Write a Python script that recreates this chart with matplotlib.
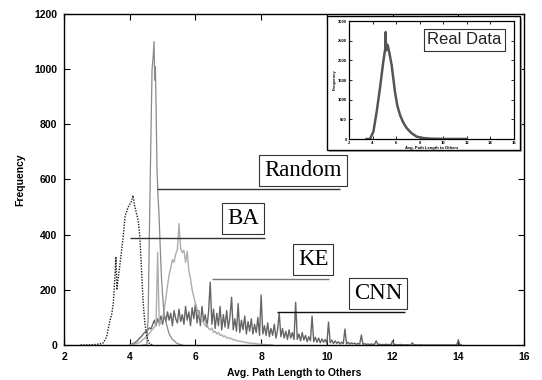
import numpy as np
import matplotlib.pyplot as plt
from matplotlib.patches import Rectangle

plt.rcParams['font.family'] = ['Liberation Sans', 'DejaVu Sans']

# ---- data ----
rand_x = [4.40, 4.52, 4.56, 4.60, 4.64, 4.68, 4.71, 4.74, 4.76, 4.78, 4.80, 4.83,
          4.86, 4.89, 4.92, 4.96, 5.00, 5.05, 5.12, 5.20, 5.30, 5.45, 5.60]
rand_y = [0, 0, 100, 420, 720, 1000, 1040, 1100, 960, 1010, 880, 640,
          540, 480, 380, 260, 180, 110, 75, 40, 20, 5, 0]

ba_x = [2.5, 2.9, 3.1, 3.2, 3.3, 3.38, 3.45, 3.5, 3.55, 3.58, 3.61, 3.64, 3.7, 3.75,
        3.8, 3.86, 3.9, 3.95, 4.0, 4.05, 4.1, 4.15, 4.2, 4.26, 4.31, 4.36, 4.41,
        4.46, 4.52, 4.6, 4.7]
ba_y = [0, 1, 4, 8, 30, 80, 110, 150, 250, 320, 200, 235, 290, 340,
        390, 470, 480, 500, 510, 520, 542, 505, 480, 450, 390, 270, 152,
        80, 29, 5, 0]

ke_x0 = 4.0
ke_y = [0, 1, 2, 4, 5, 7, 10, 13, 20, 24, 30, 35, 42, 50, 58, 65, 75, 336, 70, 85,
        95, 130, 170, 215, 255, 280, 310, 300, 330, 345, 440, 350, 335, 343, 300, 340,
        270, 240, 200, 175, 150, 130, 112, 100, 92, 80, 70, 76, 60, 55,
        62, 45, 50, 40, 46, 35, 38, 30, 33, 25, 28, 22, 24, 18, 20, 15,
        16, 12, 14, 10, 11, 8, 9, 6, 7, 5, 6, 4, 4, 3, 3, 2, 2, 1, 1, 1, 0, 0]

cnn_x0 = 4.0
cnn_y = [0, 2, 5, 8, 12, 18, 25, 30, 38, 45, 50, 55, 62, 58, 75, 90, 70, 95, 80, 105,
         75, 110, 85, 120, 90, 115, 70, 125, 95, 80, 130, 85, 110, 75, 140, 90, 120, 70,
         135, 95, 150, 80, 125, 70, 140, 85, 110, 65, 120, 228, 75, 130, 60, 115, 70,
         140, 55, 110, 65, 125, 60, 100, 173, 55, 95, 50, 150, 45, 90, 55, 105, 40,
         85, 50, 95, 40, 75, 45, 100, 35, 181, 40, 70, 35, 80, 30, 60, 35, 75, 25,
         55, 116, 30, 60, 25, 50, 20, 55, 25, 45, 20, 155, 20, 40, 15, 45, 18, 35,
         12, 30, 15, 105, 12, 28, 10, 25, 8, 22, 10, 20, 6, 83, 8, 18, 5, 15, 6, 12,
         4, 10, 5, 58, 4, 10, 3, 8, 4, 7, 2, 6, 3, 36, 2, 5, 2, 4, 1, 4, 2, 3, 15, 2,
         3, 1, 2, 1, 3, 1, 2, 1, 15, 1, 2, 0, 1, 2, 0, 1, 0, 1, 0, 0, 8, 0, 1, 0, 0,
         1, 0, 0, 0, 0, 0, 0, 0, 0, 0, 0, 0, 0, 0, 0, 0, 0, 0, 0, 0, 0, 0, 0, 18, 0, 0]

real_x = [3.5, 3.78, 4.07, 4.35, 4.63, 4.91, 5.0, 5.08, 5.11, 5.14, 5.2, 5.28, 5.35,
          5.45, 5.62, 5.9, 6.1, 6.33, 6.6, 6.89, 7.3, 7.74, 8.3, 8.87, 10.0, 12.0]
real_y = [0, 0, 186, 694, 1297, 1966, 2150, 2300, 2720, 2250, 2400, 2390, 2300,
          2150, 1880, 1200, 850, 610, 420, 280, 150, 60, 25, 10, 2, 0]

x_ticks = [2, 4, 6, 8, 10, 12, 14, 16]
y_ticks = [0, 200, 400, 600, 800, 1000, 1200]
inset_y_ticks = [0, 500, 1000, 1500, 2000, 2500, 3000]

ke_x = ke_x0 + 0.05 * np.arange(len(ke_y))
cnn_x = cnn_x0 + 0.05 * np.arange(len(cnn_y))

fig = plt.figure(figsize=(5.42, 3.8), dpi=100)
ax = fig.add_axes([0.1181, 0.0921, 0.8487, 0.8711])

ax.plot(cnn_x, cnn_y, color='#666666', lw=1.0)
ax.plot(ke_x, ke_y, color='#adadad', lw=1.0)
ax.plot(rand_x, rand_y, color='#8a8a8a', lw=0.9)
ax.plot(ba_x, ba_y, color='#222222', lw=1.0, ls=(0, (1, 1)))

ax.set_xlim(2, 16)
ax.set_ylim(0, 1200)
ax.set_xticks(x_ticks)
ax.set_yticks(y_ticks)
ax.tick_params(direction='in', top=True, right=True, length=4, width=0.8,
               labelsize=7.5, pad=5)
for lab in ax.get_xticklabels() + ax.get_yticklabels():
    lab.set_fontweight('bold')
for s in ax.spines.values():
    s.set_linewidth(1.0)
ax.set_xlabel('Avg. Path Length to Others', fontsize=7.5, fontweight='bold', labelpad=4)
ax.set_ylabel('Frequency', fontsize=7.5, fontweight='bold', labelpad=6)

# labels with leader lines
labels = [('Random', 9.27, 632, 4.83, 10.40, 564, '#333333'),
          ('BA', 7.46, 457, 4.01, 8.12, 387, '#333333'),
          ('KE', 9.58, 309, 6.50, 10.06, 239, '#777777'),
          ('CNN', 11.56, 186, 8.48, 12.38, 119, '#111111')]
for txt, tx, ty, x1, x2, ly, lc in labels:
    ax.hlines(ly, x1, x2, color=lc, lw=1.0)
    ax.text(tx, ty, txt, family='Liberation Serif', fontsize=16.5, ha='center', va='center',
            bbox=dict(boxstyle='square,pad=0.22', fc='white', ec='#333333', lw=0.8))

# inset frame with a thin shadow, drawn inside the main axes so the inset sits on top
ax.add_patch(Rectangle((0.6070, 0.6000), 0.3561, 0.3526, transform=fig.transFigure,
                       fc='#b0b0b0', ec='none', clip_on=False, zorder=5))
ax.add_patch(Rectangle((0.6033, 0.6053), 0.3561, 0.3526, transform=fig.transFigure,
                       fc='white', ec='black', lw=1.0, clip_on=False, zorder=6))

ins = fig.add_axes([0.6439, 0.6342, 0.3044, 0.3105])
ins.plot(real_x, real_y, color='#555555', lw=1.8)
ins.set_xlim(2, 16)
ins.set_ylim(0, 3000)
ins.set_xticks(x_ticks)
ins.set_yticks(inset_y_ticks)
ins.tick_params(direction='in', top=True, right=True, length=2, width=0.6,
                labelsize=3, pad=1.5)
for lab in ins.get_xticklabels() + ins.get_yticklabels():
    lab.set_fontweight('bold')
for s in ins.spines.values():
    s.set_linewidth(0.9)
ins.set_xlabel('Avg. Path Length to Others', fontsize=3, fontweight='bold', labelpad=1)
ins.set_ylabel('Frequency', fontsize=3, fontweight='bold', labelpad=1)
ins.text(0.70, 0.84, 'Real Data', transform=ins.transAxes, fontsize=12,
         ha='center', va='center', color='#222222',
         bbox=dict(boxstyle='square,pad=0.2', fc='white', ec='#333333', lw=0.8))

fig.savefig('out.png', dpi=100)
